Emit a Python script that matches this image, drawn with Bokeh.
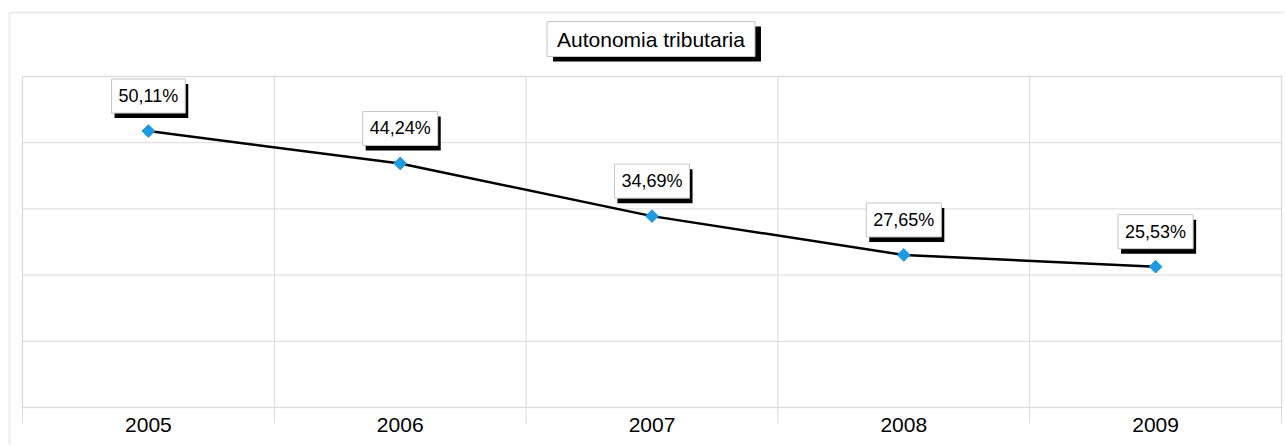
import math
from bokeh.plotting import figure
from bokeh.models import Range1d, ColumnDataSource, Label, BoxAnnotation
from bokeh.embed import file_html
from bokeh.resources import INLINE

years = ["2005", "2006", "2007", "2008", "2009"]
values = [50.11, 44.24, 34.69, 27.65, 25.53]
labels = ["50,11%", "44,24%", "34,69%", "27,65%", "25,53%"]
title_text = "Autonomia tributaria"
y_grid = [0, 12, 24, 36, 48, 60]

FONT = "Liberation Sans"
GRID = "#dadada"
FRAME = "#c4c4c4"

# layout (pixels)
W, H = 1284, 444
PL, PR, PT, PB = 22, 1281, 76, 407      # plot area edges on canvas
n = len(years)
pxu_x = (PR - PL) / n
pxu_y = (PB - PT) / (y_grid[-1] - y_grid[0])
x0 = -0.5 - PL / pxu_x
x1 = x0 + W / pxu_x
y1 = y_grid[-1] + PT / pxu_y
y0 = y1 - H / pxu_y

def cx(px):
    return x0 + px / pxu_x

def cy(py):
    return y1 - py / pxu_y

xs = list(range(n))
bounds = [i - 0.5 for i in range(n + 1)]
src = ColumnDataSource(dict(x=xs, y=values, label=labels))

p = figure(width=W, height=H, output_backend="svg", toolbar_location=None,
           x_range=Range1d(x0, x1), y_range=Range1d(y0, y1),
           min_border_left=0, min_border_right=0, min_border_top=0, min_border_bottom=0)
p.xaxis.visible = False
p.yaxis.visible = False
p.grid.visible = False
p.background_fill_color = "white"
p.border_fill_color = "white"
p.outline_line_color = None

# outer border (left and top visible)
p.add_layout(BoxAnnotation(left=cx(9), top=cy(12), right=x1 + 1, bottom=y0 - 1,
                           fill_alpha=0, line_color=FRAME, line_width=2))

# horizontal grid lines within the plot area
p.segment(x0=[bounds[0]] * len(y_grid), x1=[bounds[-1]] * len(y_grid),
          y0=y_grid, y1=y_grid, line_color=GRID, line_width=1)
# vertical category separators, extended below the axis as tick marks
tick_low = y_grid[0] - 16 / pxu_y
p.segment(x0=bounds, x1=bounds, y0=[tick_low] * len(bounds),
          y1=[y_grid[-1]] * len(bounds), line_color=GRID, line_width=1)

# plot area border
p.add_layout(BoxAnnotation(left=bounds[0], right=bounds[-1], bottom=y_grid[0], top=y_grid[-1],
                           fill_alpha=0, line_color=FRAME, line_width=1.5, level="underlay"))

p.line("x", "y", source=src, line_color="black", line_width=2.5)
p.scatter("x", "y", source=src, marker="square", angle=math.pi / 4, size=9,
          fill_color="#1e9be0", line_color="#1e9be0")

# year labels
for xv, yr in zip(xs, years):
    p.add_layout(Label(x=xv, y=y_grid[0], y_offset=-17, text=yr, text_align="center",
                       text_baseline="middle", text_font=FONT, text_font_size="21px",
                       text_color="black"))

# data label shadows then labels
for xv, yv, lab in zip(xs, values, labels):
    p.add_layout(Label(x=xv, y=yv, text=lab, x_offset=3, y_offset=18 - 5,
                       text_align="center", text_baseline="bottom", text_font=FONT,
                       text_font_size="18px", text_color="black",
                       background_fill_color="black", padding=dict(x=7, y=7)))
for xv, yv, lab in zip(xs, values, labels):
    p.add_layout(Label(x=xv, y=yv, text=lab, x_offset=0, y_offset=18,
                       text_align="center", text_baseline="bottom", text_font=FONT,
                       text_font_size="18px", text_color="black",
                       background_fill_color="white", border_line_color=FRAME,
                       padding=dict(x=7, y=7)))

# title box
tx = (n - 1) / 2
p.add_layout(Label(x=tx, y=y_grid[-1], x_offset=5, y_offset=20 - 5, text=title_text,
                   text_align="center", text_baseline="bottom", text_font=FONT,
                   text_font_size="21px", text_color="black",
                   background_fill_color="black", padding=dict(x=10, y=6)))
p.add_layout(Label(x=tx, y=y_grid[-1], x_offset=-1, y_offset=20, text=title_text,
                   text_align="center", text_baseline="bottom", text_font=FONT,
                   text_font_size="21px", text_color="black",
                   background_fill_color="white", border_line_color=FRAME,
                   padding=dict(x=10, y=6)))

open("out.html", "w").write(file_html(p, INLINE))
